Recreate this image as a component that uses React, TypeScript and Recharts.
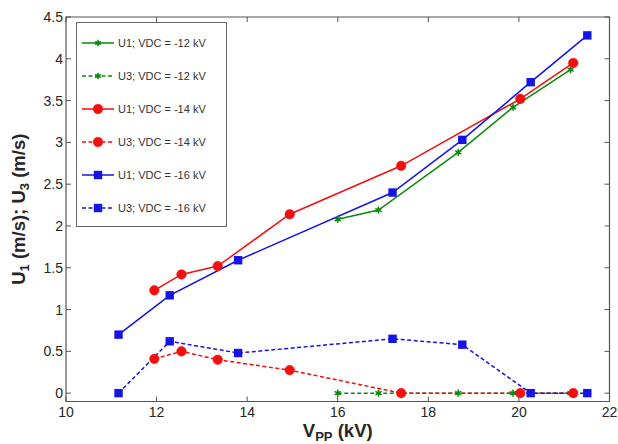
import React from 'react';
import { LineChart, Line, XAxis, YAxis, Legend, ReferenceArea } from 'recharts';

// ---- data ----
const vpp12 = [16.0, 16.9, 18.66, 19.87, 21.14];
const u1_12 = [2.08, 2.19, 2.88, 3.42, 3.87];
const u3_12 = [0, 0, 0, 0, 0];

const vpp14 = [11.95, 12.55, 13.35, 14.94, 17.4, 20.03, 21.2];
const u1_14 = [1.23, 1.42, 1.52, 2.14, 2.72, 3.52, 3.95];
const u3_14 = [0.41, 0.5, 0.4, 0.275, 0, 0, 0];

const vpp16 = [11.16, 12.29, 13.8, 17.21, 18.75, 20.26, 21.51];
const u1_16 = [0.7, 1.17, 1.59, 2.4, 3.03, 3.72, 4.28];
const u3_16 = [0, 0.62, 0.48, 0.65, 0.58, 0, 0];

const xTicks = [10, 12, 14, 16, 18, 20, 22];
const yTicks = [0, 0.5, 1, 1.5, 2, 2.5, 3, 3.5, 4, 4.5];
const legendLabels = [
  'U1; VDC = -12 kV',
  'U3; VDC = -12 kV',
  'U1; VDC = -14 kV',
  'U3; VDC = -14 kV',
  'U1; VDC = -16 kV',
  'U3; VDC = -16 kV',
];

const toPts = (xs: number[], ys: number[]) => xs.map((x, i) => ({ x, y: ys[i] }));

// ---- style / geometry ----
const W = 618;
const H = 444;
const M_TOP = 17;
const LEFT_W = 66;
const RIGHT_W = 8.5;
const BOTTOM_H = 42.5;
const PLOT_TOP = M_TOP;
const PLOT_BOTTOM = H - BOTTOM_H;
const PLOT_LEFT = LEFT_W;
const PLOT_RIGHT = W - RIGHT_W;
const TICK = 5;
const FONT = '"Liberation Sans", Arial, Helvetica, sans-serif';
const FRAME = '#555';
const TEXT = '#262626';

const GREEN = '#0a8a0a';
const RED = '#f01010';
const BLUE = '#1414e6';
const DASH = '4 2.5';

const starShape = (cx: number, cy: number, color: string, r = 3.6) => {
  const a = (Math.PI / 180) * 30;
  const dx = r * Math.cos(a);
  const dy = r * Math.sin(a);
  return (
    <g>
      <line x1={cx} y1={cy - r} x2={cx} y2={cy + r} stroke={color} strokeWidth={1.5} />
      <line x1={cx - dx} y1={cy - dy} x2={cx + dx} y2={cy + dy} stroke={color} strokeWidth={1.5} />
      <line x1={cx - dx} y1={cy + dy} x2={cx + dx} y2={cy - dy} stroke={color} strokeWidth={1.5} />
      <circle cx={cx} cy={cy} r={1.8} fill={color} />
    </g>
  );
};
const circleShape = (cx: number, cy: number, color: string) => (
  <circle cx={cx} cy={cy} r={4.8} fill={color} stroke={color} strokeWidth={0.5} />
);
const squareShape = (cx: number, cy: number, color: string) => (
  <rect x={cx - 4.2} y={cy - 4.2} width={8.4} height={8.4} fill={color} />
);

const makeDot = (kind: 'star' | 'circle' | 'square', color: string) => (props: any) => {
  const { cx, cy, index } = props;
  if (cx == null || cy == null) return <g key={index} />;
  let shape;
  if (kind === 'star') shape = starShape(cx, cy, color);
  else if (kind === 'circle') shape = circleShape(cx, cy, color);
  else shape = squareShape(cx, cy, color);
  return <g key={`d-${index}`}>{shape}</g>;
};

const XTick = (props: any) => {
  const { x, y, payload } = props;
  return (
    <g>
      <line x1={x} y1={y} x2={x} y2={y - TICK} stroke={FRAME} strokeWidth={1} />
      <line x1={x} y1={PLOT_TOP} x2={x} y2={PLOT_TOP + TICK} stroke={FRAME} strokeWidth={1} />
      <text x={x} y={y + 15} textAnchor="middle" fontSize={14} fontFamily={FONT} fill={TEXT}>
        {payload.value}
      </text>
    </g>
  );
};

const YTick = (props: any) => {
  const { x, y, payload } = props;
  return (
    <g>
      <line x1={x} y1={y} x2={x + TICK} y2={y} stroke={FRAME} strokeWidth={1} />
      <line x1={PLOT_RIGHT} y1={y} x2={PLOT_RIGHT - TICK} y2={y} stroke={FRAME} strokeWidth={1} />
      <text x={x - 3} y={y + 5} textAnchor="end" fontSize={14} fontFamily={FONT} fill={TEXT}>
        {payload.value}
      </text>
    </g>
  );
};

const XLabel = () => (
  <text
    x={(PLOT_LEFT + PLOT_RIGHT) / 2}
    y={436.5}
    textAnchor="middle"
    fontSize={18.5}
    fontWeight="bold"
    fontFamily={FONT}
    fill={TEXT}
  >
    <tspan>V</tspan>
    <tspan dy={4.5} fontSize={13}>PP</tspan>
    <tspan dy={-4.5}> (kV)</tspan>
  </text>
);

const YLabel = () => {
  const cx = 24.5;
  const cy = (PLOT_TOP + PLOT_BOTTOM) / 2;
  return (
    <text
      x={cx}
      y={cy}
      transform={`rotate(-90 ${cx} ${cy})`}
      textAnchor="middle"
      fontSize={18.5}
      fontWeight="bold"
      fontFamily={FONT}
      fill={TEXT}
    >
      <tspan>U</tspan>
      <tspan dy={4.5} fontSize={13}>1</tspan>
      <tspan dy={-4.5}> (m/s); U</tspan>
      <tspan dy={4.5} fontSize={13}>3</tspan>
      <tspan dy={-4.5}> (m/s)</tspan>
    </text>
  );
};

const legendStyles = [
  { color: GREEN, dash: undefined, kind: 'star' },
  { color: GREEN, dash: DASH, kind: 'star' },
  { color: RED, dash: undefined, kind: 'circle' },
  { color: RED, dash: DASH, kind: 'circle' },
  { color: BLUE, dash: undefined, kind: 'square' },
  { color: BLUE, dash: DASH, kind: 'square' },
];

const LEG_W = 151;
const LEG_H = 205;

const LegendBox = () => (
  <svg width={LEG_W} height={LEG_H} style={{ display: 'block' }}>
    <rect x={0.5} y={0.5} width={LEG_W - 1} height={LEG_H - 1} fill="#fff" stroke="#666" strokeWidth={1} />
    {legendLabels.map((lab, i) => {
      const s = legendStyles[i];
      const cy = 21 + i * 33;
      const cx = 22;
      let mk;
      if (s.kind === 'star') mk = starShape(cx, cy, s.color, 3.3);
      else if (s.kind === 'circle') mk = circleShape(cx, cy, s.color);
      else mk = squareShape(cx, cy, s.color);
      return (
        <g key={lab + i}>
          <line x1={6} y1={cy} x2={38} y2={cy} stroke={s.color} strokeWidth={1.5} strokeDasharray={s.dash} />
          {mk}
          <text x={42} y={cy + 4} fontSize={11} fontFamily={FONT} fill="#333">
            {lab}
          </text>
        </g>
      );
    })}
  </svg>
);

export default function App() {
  return (
    <div style={{ position: 'absolute', left: 0, top: 0, width: W, height: H, background: '#fff' }}>
      <LineChart width={W} height={H} margin={{ top: M_TOP, right: 0, bottom: 0, left: 0 }}>
        <XAxis
          type="number"
          dataKey="x"
          domain={[10, 22]}
          ticks={xTicks}
          interval={0}
          allowDataOverflow
          height={BOTTOM_H}
          axisLine={false}
          tickLine={false}
          tickSize={0}
          tickMargin={0}
          tick={<XTick />}
          label={XLabel}
        />
        <YAxis
          type="number"
          dataKey="y"
          domain={[-0.1, 4.5]}
          ticks={yTicks}
          interval={0}
          allowDataOverflow
          width={LEFT_W}
          axisLine={false}
          tickLine={false}
          tickSize={0}
          tickMargin={0}
          tick={<YTick />}
          label={YLabel}
        />
        <YAxis
          yAxisId="r"
          orientation="right"
          width={RIGHT_W}
          tick={false}
          axisLine={false}
          tickLine={false}
          domain={[-0.1, 4.5]}
          type="number"
        />
        <ReferenceArea
          x1={10}
          x2={22}
          y1={-0.1}
          y2={4.5}
          fill="none"
          fillOpacity={0}
          stroke={FRAME}
          strokeWidth={1.2}
          ifOverflow="visible"
        />
        <Legend
          layout="vertical"
          align="center"
          verticalAlign="middle"
          wrapperStyle={{ position: 'absolute', left: 75.5, top: 22, width: LEG_W, height: LEG_H }}
          content={() => <LegendBox />}
        />
        <Line
          data={toPts(vpp12, u1_12)}
          dataKey="y"
          stroke={GREEN}
          strokeWidth={1.5}
          dot={makeDot('star', GREEN)}
          isAnimationActive={false}
          name={legendLabels[0]}
        />
        <Line
          data={toPts(vpp12, u3_12)}
          dataKey="y"
          stroke={GREEN}
          strokeWidth={1.5}
          strokeDasharray={DASH}
          dot={makeDot('star', GREEN)}
          isAnimationActive={false}
          name={legendLabels[1]}
        />
        <Line
          data={toPts(vpp14, u1_14)}
          dataKey="y"
          stroke={RED}
          strokeWidth={1.5}
          dot={makeDot('circle', RED)}
          isAnimationActive={false}
          name={legendLabels[2]}
        />
        <Line
          data={toPts(vpp14, u3_14)}
          dataKey="y"
          stroke={RED}
          strokeWidth={1.5}
          strokeDasharray={DASH}
          dot={makeDot('circle', RED)}
          isAnimationActive={false}
          name={legendLabels[3]}
        />
        <Line
          data={toPts(vpp16, u1_16)}
          dataKey="y"
          stroke={BLUE}
          strokeWidth={1.5}
          dot={makeDot('square', BLUE)}
          isAnimationActive={false}
          name={legendLabels[4]}
        />
        <Line
          data={toPts(vpp16, u3_16)}
          dataKey="y"
          stroke={BLUE}
          strokeWidth={1.5}
          strokeDasharray={DASH}
          dot={makeDot('square', BLUE)}
          isAnimationActive={false}
          name={legendLabels[5]}
        />
      </LineChart>
    </div>
  );
}
